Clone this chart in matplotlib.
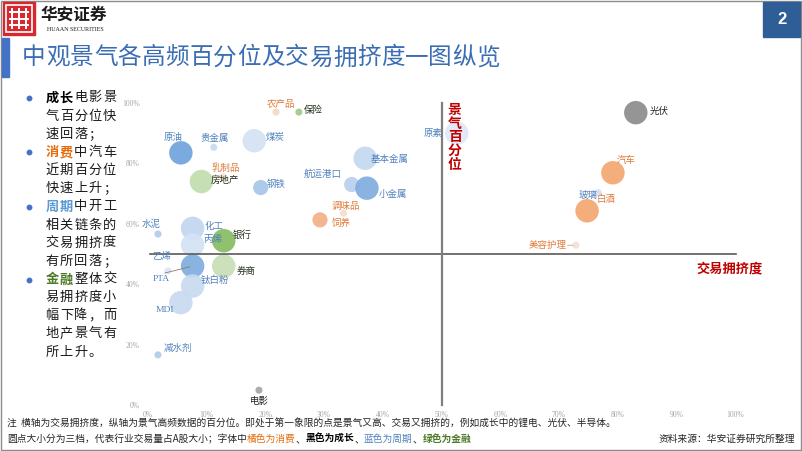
import matplotlib
matplotlib.use("Agg")
import matplotlib.pyplot as plt
from matplotlib.patches import Rectangle

plt.rcParams['font.family'] = ['Noto Sans CJK SC', 'DejaVu Sans']

# data: x = 交易拥挤度 (%), y = 景气百分位 (%), tier = 交易量档位
names = ['原油', '贵金属', '煤炭', '农产品', '保险', '乳制品', '房地产', '钢铁', '水泥', '化工',
         '丙烯', '银行', '乙烯', '券商', 'PTA', '钛白粉', 'MDI', '减水剂', '电影', '调味品',
         '饲养', '航运港口', '小金属', '基本金属', '原素', '光伏', '汽车', '玻璃', '白酒', '美容护理']
crowding = [5.6, 11.2, 18.1, 21.8, 25.7, 12.8, 9.1, 19.2, 1.7, 7.6,
            7.6, 12.9, 7.6, 12.9, 3.4, 7.6, 5.6, 1.7, 18.9, 33.3,
            29.3, 34.7, 37.3, 37.0, 52.6, 83.1, 79.2, 76.7, 74.8, 72.9]
prosperity = [83.5, 85.3, 87.5, 97.0, 97.0, 75.5, 74.0, 72.0, 56.6, 58.5,
              53.0, 54.4, 46.0, 46.0, 44.4, 39.4, 33.9, 16.6, 4.9, 63.5,
              61.3, 73.0, 71.8, 81.7, 90.0, 96.8, 76.9, 70.3, 64.3, 52.9]
tier = [3, 1, 3, 1, 1, 1, 3, 2, 1, 3,
        3, 3, 3, 3, 1, 3, 3, 1, 1, 1,
        2, 2, 3, 3, 3, 3, 3, 1, 3, 1]
group = ['周期', '周期', '周期', '消费', '金融', '消费', '金融', '周期', '周期', '周期',
         '周期', '金融', '周期', '金融', '周期', '周期', '周期', '周期', '成长', '消费',
         '消费', '周期', '周期', '周期', '周期', '成长', '消费', '周期', '消费', '消费']
x_ticks = [0, 10, 20, 30, 40, 50, 60, 70, 80, 90, 100]
y_ticks = [0, 20, 40, 60, 80, 100]

bullet_lines = ['成长电影景', '气百分位快', '速回落；', '消费中汽车', '近期百分位', '快速上升；',
                '周期中开工', '相关链条的', '交易拥挤度', '有所回落；', '金融整体交',
                '易拥挤度小', '幅下降，而', '地产景气有', '所上升。']

# styles
tier_size = {1: 26, 2: 120, 3: 285}
label_color = {'周期': '#4F81BD', '消费': '#E07B39', '成长': '#262626', '金融': '#25301A'}
fill = {'原油': '#6FA3DC', '贵金属': '#C9DAF0', '煤炭': '#D3E2F4', '农产品': '#F6D8C4',
        '保险': '#9FCB85', '乳制品': '#F6DCCB', '房地产': '#C3DDAF', '钢铁': '#A6C6EA',
        '水泥': '#AFCBEC', '化工': '#C2D6EF', '丙烯': '#D4E2F4', '银行': '#86BC62',
        '乙烯': '#7FAEE0', '券商': '#C8DFB5', 'PTA': '#DCE7F5', '钛白粉': '#C8DAF1',
        'MDI': '#C8DAF1', '减水剂': '#AFCBEC', '电影': '#A5A5A5', '调味品': '#F6DDCD',
        '饲养': '#F2B088', '航运港口': '#B8D0EE', '小金属': '#80ADE0', '基本金属': '#C4D8F0',
        '原素': '#DFE9F6', '光伏': '#8C8C8C', '汽车': '#F4A771', '玻璃': '#D0E0F4',
        '白酒': '#F4A771', '美容护理': '#F4DFD4'}
# label offset from bubble centre, in pixels (dx right, dy down)
label_off = {'原油': (-8, -15), '贵金属': (1, -9), '煤炭': (21, -3), '农产品': (5, -8),
             '保险': (14, -2), '乳制品': (3, -9), '房地产': (24, -1), '钢铁': (15, -3),
             '水泥': (-7, -10), '化工': (21, -2), '丙烯': (20, -5), '银行': (18, -6),
             '乙烯': (-31, -10), '券商': (22, 5), 'PTA': (-7, 8), '钛白粉': (22, -6),
             'MDI': (-16, 7), '减水剂': (20, -6), '电影': (0, 11), '调味品': (2, -7),
             '饲养': (21, 3), '航运港口': (-29, -11), '小金属': (26, 6), '基本金属': (24, 1),
             '原素': (-24, 0), '光伏': (23, -1), '汽车': (13, -12), '玻璃': (-10, 3),
             '白酒': (19, -11), '美容护理': (-28, 0)}

W, H = 802, 451
fig = plt.figure(figsize=(W / 100, H / 100), dpi=100)

# pixel-space overlay for the slide furniture
pax = fig.add_axes([0, 0, 1, 1], zorder=0)
pax.set_xlim(0, W)
pax.set_ylim(H, 0)
pax.axis('off')

# frame
pax.add_patch(Rectangle((1, 1), W - 2.5, H - 2.5, fill=False, ec='#8C8C8C', lw=1))

# logo
pax.add_patch(Rectangle((3, 2), 32, 33, color='#D7282F'))
pax.add_patch(Rectangle((6, 5), 26, 27, fill=False, ec='white', lw=1.2))
for xx in (12, 19, 26):
    pax.plot([xx, xx], [9, 28], color='white', lw=1.4)
for yy in (12, 19, 25):
    pax.plot([10, 28], [yy, yy], color='white', lw=1.4)
pax.text(74, 15, '华安证券', fontsize=12, fontweight='bold', ha='center', va='center', color='#1A1A1A')
pax.text(75, 29.5, 'HUAAN SECURITIES', fontsize=4.3, ha='center', va='center',
         family='Liberation Serif', color='#1A1A1A')

# page number
pax.add_patch(Rectangle((763, 2), 37, 35, color='#2F5E96'))
pax.text(781.5, 20, '2', fontsize=12, fontweight='bold', color='white', ha='center', va='center',
         family='Liberation Sans')

# title
pax.add_patch(Rectangle((2, 38), 7, 39, color='#4472C4'))
for k, ch in enumerate('中观景气各高频百分位及交易拥挤度一图纵览'):
    pax.text(34 + 23.9 * k, 58, ch, fontsize=17, color='#3A6DB3', va='center', ha='center')

# left bullet text
kw_color = {'成长': '#000000', '消费': '#E46C0A', '周期': '#5B9BD5', '金融': '#4F7A28'}
for i, line in enumerate(bullet_lines):
    yy = 98 + 18.15 * i
    kw = line[:2] if line[:2] in kw_color else None
    if kw:
        pax.plot(29, yy, 'o', ms=3.2, color='#4472C4')
    for j, ch in enumerate(line):
        col, wt = '#1A1A1A', 'normal'
        if kw and j < 2:
            col, wt = kw_color[kw], 'bold'
        pax.text(52 + 14.4 * j, yy, ch, fontsize=9.5, color=col, fontweight=wt,
                 ha='center', va='center')

# footnotes
pax.text(7, 424, '注  横轴为交易拥挤度，纵轴为景气高频数据的百分位。即处于第一象限的点是景气又高、'
         '交易又拥挤的，例如成长中的锂电、光伏、半导体。', fontsize=7, color='#262626', va='center')
t = pax.text(7, 439, '圆点大小分为三档，代表行业交易量占A股大小；字体中', fontsize=7,
             color='#262626', va='center')
for seg, col, wt in [('橘色为消费', '#E46C0A', 'normal'), ('、', '#262626', 'normal'),
                     ('黑色为成长', '#000000', 'bold'), ('、', '#262626', 'normal'),
                     ('蓝色为周期', '#4F81BD', 'normal'), ('、', '#262626', 'normal'),
                     ('绿色为金融', '#4F7A28', 'bold')]:
    t = pax.annotate(seg, xy=(1, 0.5), xycoords=t, fontsize=7, color=col, fontweight=wt,
                     va='center', ha='left')
pax.text(795, 439, '资料来源：华安证券研究所整理', fontsize=7, color='#262626', va='center', ha='right')

# main scatter axes: 0..100 on both axes
x0, x1, y0, y1 = 148, 735, 405, 103
ax = fig.add_axes([x0 / W, 1 - y0 / H, (x1 - x0) / W, (y0 - y1) / H], zorder=1)
ax.patch.set_alpha(0)
ax.set_xlim(0, 100)
ax.set_ylim(0, 100)
for s in ax.spines.values():
    s.set_visible(False)
ax.set_xticks(x_ticks)
ax.set_xticklabels([f'{v}%' for v in x_ticks])
ax.set_yticks(y_ticks)
ax.set_yticklabels([f'{v}%' for v in y_ticks])
ax.tick_params(length=0, labelsize=5.5, labelcolor='#A6A6A6', pad=4)
for lab in ax.get_xticklabels() + ax.get_yticklabels():
    lab.set_family('Liberation Serif')
ax.tick_params(axis='y', pad=6)

for i, n in enumerate(names):
    ax.scatter(crowding[i], prosperity[i], s=tier_size[tier[i]], color=fill[n], alpha=0.92,
               edgecolors='none', zorder=2, clip_on=False)
    dx, dy = label_off[n]
    ax.annotate(n, (crowding[i], prosperity[i]), xytext=(dx * 0.72, -dy * 0.72),
                textcoords='offset points', ha='center', va='center', fontsize=6.8,
                color=label_color[group[i]], zorder=4,
                family=['Liberation Serif', 'Noto Sans CJK SC'] if n.isascii() else None)

# leader lines
i = names.index('乙烯')
ax.annotate('', (crowding[i], prosperity[i]), xytext=(-22, -5.5), textcoords='offset points',
            arrowprops=dict(arrowstyle='-', color='#8C7B6B', lw=0.6), zorder=3)
i = names.index('美容护理')
ax.annotate('', (crowding[i], prosperity[i]), xytext=(-8, 0), textcoords='offset points',
            arrowprops=dict(arrowstyle='-', color='#C9A58C', lw=0.6), zorder=3)

# quadrant axes
ax.plot([0.3, 100.2], [50, 50], color='#595959', lw=1.2, zorder=3, clip_on=False)
ax.plot([50, 50], [0, 100], color='#7F7F7F', lw=1.6, zorder=3, clip_on=False)

# axis titles
for k, ch in enumerate('景气百分位'):
    ax.text(455, 110 + 13.7 * k, ch, transform=pax.transData, fontsize=10, fontweight='bold',
            color='#C00000', ha='center', va='center', zorder=5)
ax.text(730, 268, '交易拥挤度', transform=pax.transData, fontsize=9.5, fontweight='bold',
        color='#C00000', ha='center', va='center', zorder=5)

fig.savefig('out.png', dpi=100)
